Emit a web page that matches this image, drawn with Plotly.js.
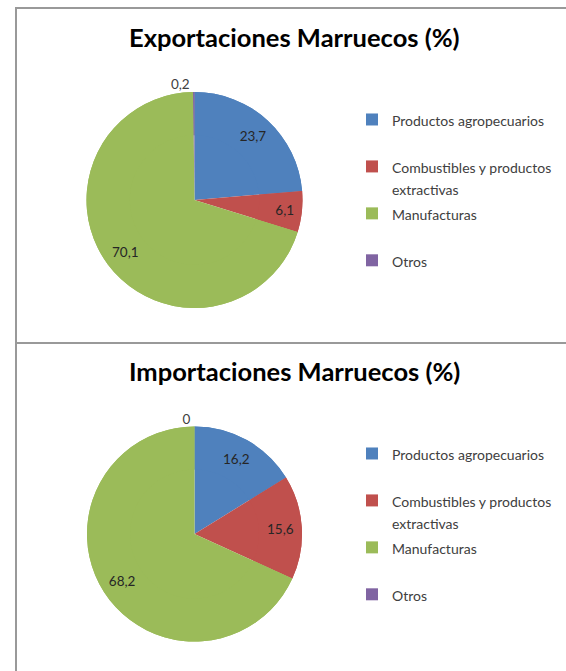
<!DOCTYPE html>
<html>
<head>
<meta charset="utf-8">
<script src="https://cdn.plot.ly/plotly-3.0.1.min.js"></script>
<style>
  html, body { margin: 0; padding: 0; background: #ffffff; }
  #wrap { position: relative; width: 566px; height: 671px; overflow: hidden; background: #ffffff; }
  .plot { position: absolute; left: 0; width: 566px; }
  #exp { top: 0; height: 343px; }
  #imp { top: 343px; height: 328px; }
  .frame { position: absolute; left: 15px; width: 560px; border-top: 2px solid #999999; border-left: 2px solid #999999; pointer-events: none; }
  #frame1 { top: 7px; height: 335px; }
  #frame2 { top: 342px; height: 340px; }
</style>
</head>
<body>
<div id="wrap">
  <div id="exp" class="plot"></div>
  <div id="imp" class="plot"></div>
  <div id="frame1" class="frame"></div>
  <div id="frame2" class="frame"></div>
</div>
<script>
// ---- data ----
const categories = ['Productos agropecuarios', 'Combustibles y productos<br>extractivas', 'Manufacturas', 'Otros'];
const exportValues = [23.7, 6.1, 70.1, 0.2];
const importValues = [16.2, 15.6, 68.2, 0];
const exportTitle = 'Exportaciones Marruecos (%)';
const importTitle = 'Importaciones Marruecos (%)';
const sliceColors = ['#4F81BD', '#C0504D', '#9BBB59', '#8064A2'];

// ---- helpers ----
const FONT = 'Lato, "Open Sans", sans-serif';
const fmt = v => String(v).replace('.', ',');

// legend labels: 14px glyphs, padded to two lines so entries are evenly spaced like Excel
const legendLabels = categories.map(c => {
  const lines = c.split('<br>');
  while (lines.length < 2) lines.push('\u00A0');
  return lines.map(l => '<span style="font-size:14px">' + l + '</span>').join('<br>');
});

function makeChart(divId, values, title, W, H, geo) {
  const px = x => x / W;
  const py = y => 1 - y / H;
  const dom = { x: [px(geo.cx - geo.r), px(geo.cx + geo.r)], y: [py(geo.cy + geo.r), py(geo.cy - geo.r)] };

  const common = {
    type: 'pie',
    labels: legendLabels,
    values: values,
    sort: false,
    direction: 'clockwise',
    rotation: 0,
    automargin: false,
    marker: { colors: sliceColors, line: { width: 0 } },
    domain: dom,
    hoverinfo: 'none'
  };

  // full pie body
  const body = Object.assign({}, common, { textinfo: 'none', showlegend: false });
  // ring on top carrying the data labels (places them near 0.8 R like Excel)
  const ring = Object.assign({}, common, {
    hole: 0.6,
    text: values.map(fmt),
    textinfo: 'text',
    textposition: ['inside', 'inside', 'inside', 'outside'],
    insidetextorientation: 'horizontal',
    textfont: { family: FONT, size: 13.5, color: '#262626' },
    outsidetextfont: { family: FONT, size: 13.5, color: '#404040' },
    showlegend: true
  });

  const layout = {
    width: W, height: H,
    margin: { l: 0, r: 0, t: 0, b: 0 },
    paper_bgcolor: 'rgba(0,0,0,0)',
    plot_bgcolor: 'rgba(0,0,0,0)',
    showlegend: true,
    uniformtext: { mode: 'show', minsize: 13.5 },
    legend: {
      x: px(352), y: py(geo.legendTop), xanchor: 'left', yanchor: 'top', valign: 'top',
      bgcolor: 'rgba(0,0,0,0)', borderwidth: 0, traceorder: 'normal',
      font: { family: FONT, size: 16.9, color: '#404040' }
    },
    annotations: [
      { text: '<b>' + title + '</b>', xref: 'paper', yref: 'paper', x: px(294), y: py(geo.titleY),
        xanchor: 'center', yanchor: 'middle', showarrow: false,
        font: { family: FONT, size: 25.5, color: '#000000' } }
    ]
  };

  Plotly.newPlot(divId, [body, ring], layout, { staticPlot: true, displayModeBar: false });
}

makeChart('exp', exportValues, exportTitle, 566, 343,
  { cx: 194.5, cy: 200, r: 108, titleY: 37, legendTop: 102 });
makeChart('imp', importValues, importTitle, 566, 328,
  { cx: 194.5, cy: 534 - 343, r: 107.5, titleY: 371 - 343, legendTop: 436 - 343 });
</script>
</body>
</html>
